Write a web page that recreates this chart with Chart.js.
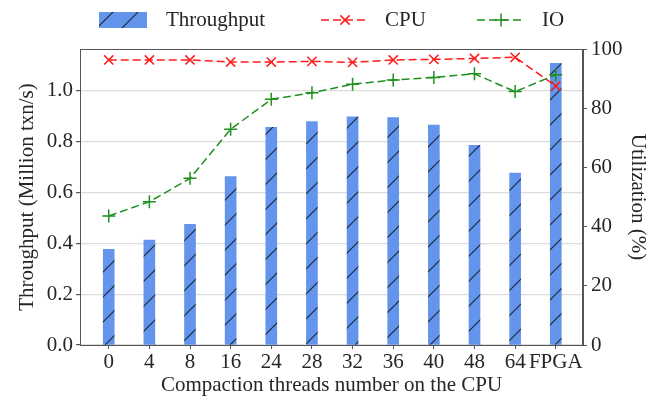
<!DOCTYPE html>
<html>
<head>
<meta charset="utf-8">
<script src="https://cdn.jsdelivr.net/npm/chart.js@4"></script>
<style>
  html, body { margin: 0; padding: 0; background: #fff; }
  #chart { display: block; }
</style>
</head>
<body>
<canvas id="chart" width="651" height="398"></canvas>
<script>
// ---- data ----
const categories = ['0', '4', '8', '16', '24', '28', '32', '36', '40', '48', '64', 'FPGA'];
const throughput = [0.377, 0.413, 0.475, 0.663, 0.857, 0.879, 0.898, 0.895, 0.866, 0.786, 0.677, 1.109];
const cpuUtil    = [96.3, 96.3, 96.3, 95.6, 95.6, 95.8, 95.5, 96.3, 96.5, 96.8, 97.2, 87.5];
const ioUtil     = [43.6, 48.4, 56.3, 72.9, 83.0, 85.2, 88.1, 89.5, 90.4, 91.6, 85.6, 91.3];
const leftTicks  = [0.0, 0.2, 0.4, 0.6, 0.8, 1.0];
const rightTicks = [0, 20, 40, 60, 80, 100];

const FONT = 'Liberation Serif';
const TEXT = '#262626';
const AXIS = '#555555';
const BAR_BLUE = '#6495ED';

// hatched fill like matplotlib '/'
function makeHatch() {
  const size = 25;
  const c = document.createElement('canvas');
  c.width = size; c.height = size;
  const g = c.getContext('2d');
  g.fillStyle = BAR_BLUE;
  g.fillRect(0, 0, size, size);
  g.strokeStyle = '#1c2233';
  g.lineWidth = 1.1;
  g.beginPath();
  g.moveTo(-2, size + 2); g.lineTo(size + 2, -2);
  g.moveTo(-2, 2); g.lineTo(2, -2);
  g.moveTo(size - 2, size + 2); g.lineTo(size + 2, size - 2);
  g.stroke();
  return g.createPattern(c, 'repeat');
}
const hatch = makeHatch();

const toPoints = arr => arr.map((v, i) => ({ x: i, y: v }));

// frame + legend drawn on top
const framePlugin = {
  id: 'frameLegend',
  afterDraw(chart) {
    const { ctx, chartArea: a } = chart;
    ctx.save();
    ctx.strokeStyle = AXIS;
    ctx.lineWidth = 1;
    ctx.strokeRect(a.left + 0.5, a.top + 0.5, a.right - a.left - 1, a.bottom - a.top);

    const ds = chart.data.datasets;
    const y = 20;
    ctx.font = '21px "' + FONT + '"';
    ctx.fillStyle = TEXT;
    ctx.textBaseline = 'middle';

    // bar entry
    ctx.fillStyle = ds[0].backgroundColor;
    ctx.fillRect(99, 12, 48, 16);
    ctx.fillStyle = TEXT;
    ctx.fillText(ds[0].label, 166, y);

    // line entries
    const lines = [[ds[1], 321, 385], [ds[2], 477, 542]];
    lines.forEach(([d, x0, tx]) => {
      ctx.strokeStyle = d.borderColor;
      ctx.lineWidth = 1.5;
      ctx.setLineDash(d.borderDash);
      ctx.beginPath();
      ctx.moveTo(x0, y); ctx.lineTo(x0 + 48, y);
      ctx.stroke();
      ctx.setLineDash([]);
      const cx = x0 + 24, r = d.pointRadius;
      ctx.beginPath();
      if (d.pointStyle === 'crossRot') {
        const k = r * 0.7071;
        ctx.moveTo(cx - k, y - k); ctx.lineTo(cx + k, y + k);
        ctx.moveTo(cx - k, y + k); ctx.lineTo(cx + k, y - k);
      } else {
        ctx.moveTo(cx - r, y); ctx.lineTo(cx + r, y);
        ctx.moveTo(cx, y - r); ctx.lineTo(cx, y + r);
      }
      ctx.stroke();
      ctx.fillStyle = TEXT;
      ctx.fillText(d.label, tx, y);
    });
    ctx.restore();
  }
};

new Chart(document.getElementById('chart'), {
  type: 'bar',
  data: {
    datasets: [
      {
        type: 'bar', label: 'Throughput', data: toPoints(throughput),
        backgroundColor: hatch, borderWidth: 0, barThickness: 11,
        yAxisID: 'y', order: 2
      },
      {
        type: 'line', label: 'CPU', data: toPoints(cpuUtil),
        borderColor: '#ff1a1a', backgroundColor: '#ff1a1a', borderWidth: 1.5,
        borderDash: [8, 4], pointStyle: 'crossRot', pointRadius: 6.5,
        pointBorderWidth: 1.5, tension: 0, fill: false, yAxisID: 'y1', order: 1
      },
      {
        type: 'line', label: 'IO', data: toPoints(ioUtil),
        borderColor: '#1f8f1f', backgroundColor: '#1f8f1f', borderWidth: 1.5,
        borderDash: [8, 4], pointStyle: 'cross', pointRadius: 6.5,
        pointBorderWidth: 1.5, tension: 0, fill: false, yAxisID: 'y1', order: 0
      }
    ]
  },
  options: {
    responsive: false,
    animation: false,
    layout: { padding: { top: 49, left: 0, right: 0, bottom: 0 } },
    plugins: { legend: { display: false }, tooltip: { enabled: false } },
    scales: {
      x: {
        type: 'linear', position: 'bottom', min: -0.707, max: 11.67, offset: false,
        afterBuildTicks: s => { s.ticks = categories.map((_, i) => ({ value: i })); },
        afterFit: s => { s.height = 53; },
        ticks: {
          autoSkip: false, maxRotation: 0, padding: 1, color: TEXT,
          font: { family: FONT, size: 21 },
          callback: v => categories[v]
        },
        grid: { drawOnChartArea: false, offset: false, tickLength: 4, tickColor: AXIS },
        border: { color: AXIS },
        title: {
          display: true, text: 'Compaction threads number on the CPU', color: TEXT,
          font: { family: FONT, size: 21 }, padding: { top: 0, bottom: 0 }
        }
      },
      y: {
        position: 'left', min: 0, max: 1.165,
        afterBuildTicks: s => { s.ticks = leftTicks.map(v => ({ value: v })); },
        afterFit: s => { s.width = 80; },
        ticks: {
          padding: 3, color: TEXT, font: { family: FONT, size: 21 },
          callback: v => Number(v).toFixed(1)
        },
        grid: { color: '#dcdcdc', lineWidth: 1.2, tickLength: 4, tickColor: AXIS },
        border: { color: AXIS },
        title: {
          display: true, text: 'Throughput (Million txn/s)', color: TEXT,
          font: { family: FONT, size: 21 }, padding: { top: 15, bottom: 0 }
        }
      },
      y1: {
        position: 'right', min: 0, max: 100,
        afterBuildTicks: s => { s.ticks = rightTicks.map(v => ({ value: v })); },
        afterFit: s => { s.width = 68; },
        ticks: { padding: 4, color: TEXT, font: { family: FONT, size: 21 } },
        grid: { drawOnChartArea: false, tickLength: 4, tickColor: AXIS },
        border: { color: AXIS },
        title: {
          display: true, text: 'Utilization (%)', color: TEXT,
          font: { family: FONT, size: 21 }, padding: { top: 1, bottom: 0 }
        }
      }
    }
  },
  plugins: [framePlugin]
});
</script>
</body>
</html>
